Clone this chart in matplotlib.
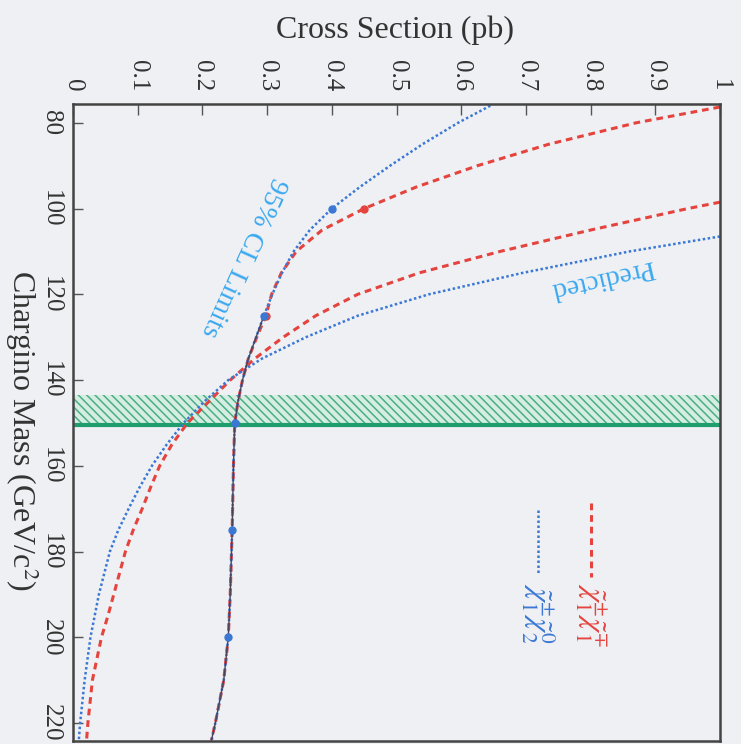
import numpy as np
import matplotlib
matplotlib.use("Agg")
import matplotlib.pyplot as plt

plt.rcParams['font.family'] = ['Liberation Serif', 'DejaVu Serif']
plt.rcParams['mathtext.fontset'] = 'stix'
plt.rcParams['hatch.linewidth'] = 1.1

# Predicted cross sections (pb) vs chargino mass (GeV/c^2)
mass_c1c1 = [98.5, 100, 105, 110, 115, 120, 125, 130, 135, 140, 145, 150, 155,
             160, 165, 170, 175, 180, 190, 195, 200, 210, 220, 224]
pred_c1c1 = [1.0, 0.95, 0.80, 0.66, 0.535, 0.44, 0.375, 0.325, 0.281, 0.243,
             0.21, 0.177, 0.153, 0.134, 0.12, 0.107, 0.093, 0.081, 0.063,
             0.054, 0.044, 0.030, 0.023, 0.021]

mass_c1n2 = [106.5, 110, 115, 120, 125, 130, 135, 140, 145, 150, 155, 160, 165,
             170, 175, 180, 190, 200, 210, 220, 224]
pred_c1n2 = [1.0, 0.86, 0.695, 0.55, 0.44, 0.36, 0.292, 0.24, 0.203, 0.171,
             0.145, 0.122, 0.103, 0.086, 0.070, 0.057, 0.040, 0.027, 0.018,
             0.011, 0.009]

# 95% CL limits
lim_mass = [76, 80, 85, 90, 95, 100, 105, 110, 115, 120, 125, 130, 135, 140,
            145, 150, 160, 175, 190, 200, 210, 220, 224]
lim_c1n2 = [0.645, 0.595, 0.54, 0.49, 0.443, 0.40, 0.366, 0.341, 0.323, 0.308,
            0.295, 0.283, 0.271, 0.262, 0.255, 0.25, 0.248, 0.246, 0.243, 0.24,
            0.233, 0.22, 0.214]
lim_mass_c1c1 = [76.3, 80, 85, 90, 95, 100, 105, 110, 115, 120, 125, 130, 135,
                 140, 145, 150, 160, 175, 190, 200, 210, 220, 224]
lim_c1c1 = [1.0, 0.87, 0.735, 0.625, 0.53, 0.45, 0.385, 0.345, 0.322, 0.307,
            0.298, 0.284, 0.271, 0.262, 0.255, 0.25, 0.248, 0.246, 0.243, 0.24,
            0.233, 0.22, 0.214]

# computed limit points
pts_mass = [100, 125, 150, 175, 200]
pts_c1n2 = [0.40, 0.295, 0.25, 0.246, 0.24]
pts_mass_c1c1 = [100, 125]
pts_c1c1 = [0.45, 0.298]

# excluded band
band = (143.5, 150.5)

xticks = np.arange(0, 1.01, 0.1)
xtick_labels = ['0', '0.1', '0.2', '0.3', '0.4', '0.5', '0.6', '0.7', '0.8', '0.9', '1']
yticks = [80, 100, 120, 140, 160, 180, 200, 220]

red = '#e5433e'
blue = '#3b78d4'
lblue = '#3aa8ef'
bg = '#eef0f3'

fig = plt.figure(figsize=(7.41, 7.44), dpi=100, facecolor=bg)
ax = fig.add_axes([73 / 741, 3 / 744, 647 / 741, 637 / 744], facecolor=bg)

ax.axhspan(band[0], band[1], facecolor='#d6eee2', edgecolor='#4aae86',
           hatch=r'\\\\', lw=0)
ax.axhline(band[1], color='#1e9e6c', lw=3)

ax.plot(pred_c1c1, mass_c1c1, color=red, lw=2.2, ls=(0, (2.2, 1.6)))
ax.plot(pred_c1n2, mass_c1n2, color=blue, lw=1.8, ls=(0, (1, 1)))
ax.plot(lim_c1c1, lim_mass_c1c1, color=red, lw=2.2, ls=(0, (2.2, 1.6)))
ax.plot(lim_c1n2, lim_mass, color=blue, lw=1.8, ls=(0, (1, 1)))
ax.plot(lim_c1n2[10:], lim_mass[10:], color='#4a4458', lw=1.0)
ax.plot(pts_c1c1, pts_mass_c1c1, 'o', color=red, ms=5)
ax.plot(pts_c1n2, pts_mass, 'o', color=blue, ms=5)

ax.text(0.263, 111.3, '95% CL Limits', color=lblue, fontsize=20,
        rotation=-114.5, ha='center', va='center')
ax.text(0.819, 116.2, 'Predicted', color=lblue, fontsize=20,
        rotation=193, ha='center', va='center')

# legend, drawn rotated like the rest of the figure
ax.plot([0.80, 0.80], [0.374, 0.257], transform=ax.transAxes, color=red,
        lw=2.2, ls=(0, (2.2, 1.6)))
ax.plot([0.719, 0.719], [0.363, 0.264], transform=ax.transAxes, color=blue,
        lw=1.8, ls=(0, (1, 1)))
ax.text(0.80, 0.248, r'$\tilde{\chi}^{\pm}_1\tilde{\chi}^{\mp}_1$', color=red,
        fontsize=22, rotation=-90, ha='center', va='top', transform=ax.transAxes)
ax.text(0.719, 0.248, r'$\tilde{\chi}^{\pm}_1\tilde{\chi}^{0}_2$', color=blue,
        fontsize=22, rotation=-90, ha='center', va='top', transform=ax.transAxes)

ax.set_xlim(0, 1)
ax.set_ylim(224.2, 75.6)
ax.xaxis.tick_top()
ax.set_xticks(xticks)
ax.set_xticklabels(xtick_labels, rotation=-90, fontsize=18)
ax.set_yticks(yticks)
ax.set_yticklabels([str(v) for v in yticks], rotation=-90, fontsize=18,
                   va='center')
ax.tick_params(axis='x', direction='in', length=8, width=1, pad=9, colors='#555')
ax.tick_params(axis='y', direction='in', length=7, width=1, pad=8, colors='#555')
for lbl in ax.get_xticklabels() + ax.get_yticklabels():
    lbl.set_color('#333')
for s in ax.spines.values():
    s.set_color('#444')
    s.set_linewidth(1.8)

fig.text(395 / 741, 1 - 30 / 744, 'Cross Section (pb)', fontsize=23,
         ha='center', va='center', color='#333')
fig.text(22 / 741, 1 - 431 / 744, r'Chargino Mass (GeV/c$^2$)', fontsize=23,
         rotation=-90, ha='center', va='center', color='#333')

fig.savefig('out.png', dpi=100, facecolor=bg)
